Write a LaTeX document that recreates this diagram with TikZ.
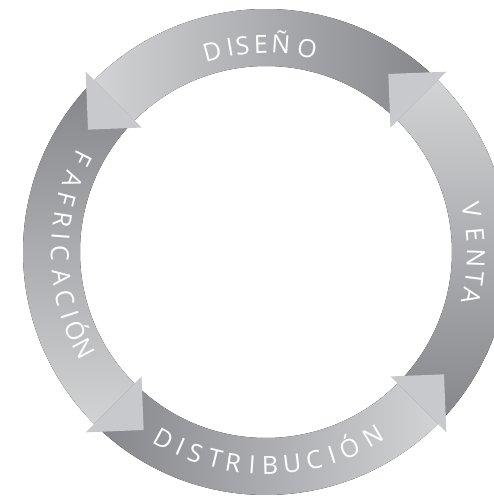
\documentclass[tikz,border=0pt]{standalone}
\usepackage{fontspec}
\newfontfamily\ringfont{Open Sans}

\definecolor{ringdark}{RGB}{134,135,139}
\definecolor{ringlight}{RGB}{210,211,213}
\definecolor{headgray}{RGB}{200,201,204}

\begin{document}
\begin{tikzpicture}[x = 1pt, y = 1pt]
	% Frame of the picture, centre of the ring at the origin
	\useasboundingbox (-266, -245) rectangle (228, 252);
	\clip (-266, -245) rectangle (228, 252);

	% Inner and outer radius of the ring
	\def\ringin{186}
	\def\ringout{243}

	% Styles for the heads and the letters
	\tikzset{arrowhead/.style = {fill = headgray},
		ringtext/.style = {text = white, font = \ringfont\fontsize{25}{30}\selectfont, inner sep = 0pt, anchor = base}}

	% Draw the four bands, each tail goes under the head before it
	\fill[left color = ringlight, right color = ringdark] (47:\ringin) arc[start angle = 47, end angle = 135, radius = \ringin] -- (135:\ringout) arc[start angle = 135, end angle = 47, radius = \ringout] -- cycle;
	\fill[top color = ringdark, bottom color = ringlight] (137:\ringin) arc[start angle = 137, end angle = 225, radius = \ringin] -- (225:\ringout) arc[start angle = 225, end angle = 137, radius = \ringout] -- cycle;
	\fill[left color = ringdark, right color = ringlight] (227:\ringin) arc[start angle = 227, end angle = 315, radius = \ringin] -- (315:\ringout) arc[start angle = 315, end angle = 227, radius = \ringout] -- cycle;
	\fill[top color = ringlight, bottom color = ringdark] (-43:\ringin) arc[start angle = -43, end angle = 45, radius = \ringin] -- (45:\ringout) arc[start angle = 45, end angle = -43, radius = \ringout] -- cycle;

	% Draw the arrow heads
	\foreach \a in {45, 135, 225, 315}
		\fill[arrowhead] (\a:176) -- ({\a + 10.5}:216) -- (\a:255) -- cycle;

	% Labels, one letter at a time along the ring
	\foreach \ch/\ang [count = \i] in {D/105, I/100, S/96.5, E/91.4, Ñ/85.9, O/78.6}
		\node[ringtext, rotate = \ang - 90] (dis\i) at (\ang:199) {\ch};
	\foreach \ch/\ang [count = \i] in {V/11.4, E/4.8, N/-1.8, T/-7.2, A/-12.2}
		\node[ringtext, rotate = \ang - 90] (ven\i) at (\ang:201) {\ch};
	\foreach \ch/\ang [count = \i] in {F/153, A/159.5, F/165, R/171, I/175.8, C/180.5, A/187, C/193, I/197.8, Ó/202.6, N/208}
		\node[ringtext, rotate = \ang + 90] (fab\i) at (\ang:215) {\ch};
	\foreach \ch/\ang [count = \i] in {D/241.2, I/246.3, S/250.6, T/256.2, R/261.1, I/266.3, B/271.1, U/277, C/283, I/288, Ó/293.1, N/300.3}
		\node[ringtext, rotate = \ang + 90] (dist\i) at (\ang:222) {\ch};

\end{tikzpicture}
\end{document}
